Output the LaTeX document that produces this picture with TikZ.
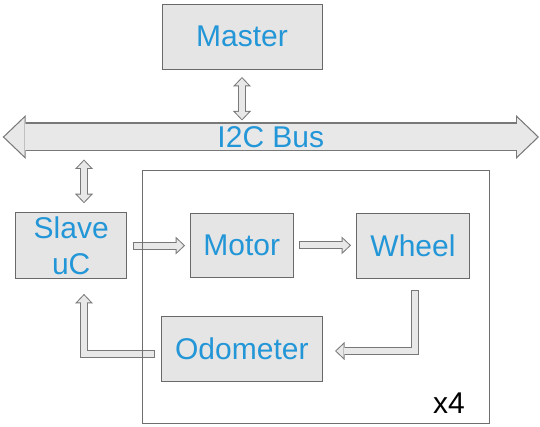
\documentclass[tikz,border=0pt]{standalone}
\usepackage{fontspec}
\setmainfont{Liberation Sans}
\usepackage{xcolor}
\usepackage{tikz}
\usetikzlibrary{arrows.meta, positioning, calc}

\definecolor{labelblue}{RGB}{35,150,215}
\definecolor{boxfill}{RGB}{229,229,229}
\definecolor{boxedge}{RGB}{105,105,105}
\definecolor{pipefill}{RGB}{232,232,232}
\definecolor{pipeedge}{RGB}{120,120,120}
\definecolor{frameedge}{RGB}{110,110,110}

\tikzset{
  block/.style={draw=boxedge, fill=boxfill, line width=0.9pt, text=labelblue,
    inner sep=0pt, outer sep=0pt, font=\fontsize{30}{35.7}\selectfont},
  pipe/.style={draw=pipeedge, line width=8pt,
    -{Triangle[length=9.5pt, width=18pt, line width=0pt]}},
  pipecore/.style={draw=pipefill, line width=6pt,
    -{Triangle[length=7.05pt, width=13.36pt, line width=0pt]}},
  duct/.style={draw=pipeedge, line width=8pt,
    {Triangle[length=9.5pt, width=18pt, line width=0pt]}-{Triangle[length=9.5pt, width=18pt, line width=0pt]}},
  ductcore/.style={draw=pipefill, line width=6pt,
    {Triangle[length=7.05pt, width=13.36pt, line width=0pt]}-{Triangle[length=7.05pt, width=13.36pt, line width=0pt]}},
  bus/.style={draw=pipeedge, line width=29pt,
    {Triangle[length=23pt, width=44pt, line width=0pt]}-{Triangle[length=23pt, width=44pt, line width=0pt]}},
  buscore/.style={draw=pipefill, line width=26.6pt,
    {Triangle[length=20.06pt, width=38.4pt, line width=0pt]}-{Triangle[length=20.06pt, width=38.4pt, line width=0pt]}},
}

\begin{document}
\begin{tikzpicture}[x=1pt, y=-1pt]
  \useasboundingbox (0,0) rectangle (540,427);

  % Blocks
  \node[block, minimum width=160pt, minimum height=65.5pt] (master) at (242,36.75) {Master};
  \node[block, minimum width=111pt, minimum height=65.3pt, align=center] (slave) at (71.2,245.6) {Slave\\uC};
  \node[block, minimum width=103.3pt, minimum height=64.7pt] (motor) at (241.7,245.4) {Motor};
  \node[block, minimum width=112.6pt, minimum height=65pt] (wheel) at (413,245.5) {Wheel};
  \node[block, minimum width=160.3pt, minimum height=65pt] (odo) at (241.85,349.2) {Odometer};

  % Bus
  \coordinate (busW) at (2.7,137);
  \coordinate (busE) at (539,137);
  \draw[bus] (busW) -- (busE);
  \draw[buscore, shorten <=1.74pt, shorten >=1.74pt] (busW) -- (busE);
  \node[text=labelblue, font=\fontsize{30}{36}\selectfont, inner sep=0pt] (buslabel) at ($(busW)!0.5!(busE)$) {I2C Bus};

  % Ports
  \coordinate (sport) at ($(slave.north)+(12.8,0)$);
  \coordinate (sin) at ($(slave.south)+(12.8,0)$);
  \coordinate (wport) at ($(wheel.south)+(2.3,0)$);
  \coordinate (odoin) at ($(odo.east)+(0,1.8)$);
  \coordinate (odoout) at ($(odo.west)+(0,4.8)$);

  % Bus taps
  \draw[duct, shorten <=7.5pt, shorten >=16.5pt] (master.south) -- (master.south |- busW);
  \draw[ductcore, shorten <=8.95pt, shorten >=17.95pt] (master.south) -- (master.south |- busW);
  \draw[duct, shorten <=9.7pt, shorten >=22.5pt] (sport) -- (sport |- busW);
  \draw[ductcore, shorten <=11.15pt, shorten >=23.95pt] (sport) -- (sport |- busW);

  % Control loop
  \draw[pipe, shorten <=5.8pt, shorten >=5pt] (slave.east) -- (slave.east -| motor.west);
  \draw[pipecore, shorten <=6.8pt, shorten >=6.45pt] (slave.east) -- (slave.east -| motor.west);
  \draw[pipe, shorten <=6pt, shorten >=5.7pt] (motor.east) -- (motor.east -| wheel.west);
  \draw[pipecore, shorten <=7pt, shorten >=7.15pt] (motor.east) -- (motor.east -| wheel.west);
  \draw[pipe, shorten <=12pt, shorten >=13pt] (wport) |- (odoin);
  \draw[pipecore, shorten <=13pt, shorten >=14.45pt] (wport) |- (odoin);
  \draw[pipe, shorten <=6.4pt, shorten >=15.7pt] (odoout) -| (sin);
  \draw[pipecore, shorten <=7.4pt, shorten >=17.15pt] (odoout) -| (sin);

  % Per-wheel group
  \node[draw=frameedge, line width=0.8pt, inner sep=0pt, outer sep=0pt,
    minimum width=346.3pt, minimum height=253.5pt] (group) at (315.85,296.75) {};
  \node[anchor=base east, font=\fontsize{30}{36}\selectfont, inner sep=0pt] (copies)
    at ($(group.south east)+(-24,-10.2)$) {x4};
\end{tikzpicture}
\end{document}
